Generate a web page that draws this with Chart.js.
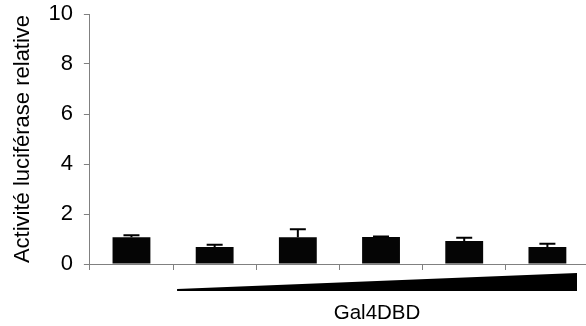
<!DOCTYPE html>
<html>
<head>
<meta charset="utf-8">
<script src="https://cdn.jsdelivr.net/npm/chart.js@4/dist/chart.umd.min.js"></script>
<style>
  body { margin: 0; overflow: hidden; background: #fff; }
  #wrap { width: 590px; height: 326px; }
</style>
</head>
<body>
<div id="wrap"><canvas id="grafico" width="590" height="326"></canvas></div>
<script>
// données
const categories = ['1', '2', '3', '4', '5', '6'];
const valeurs = [1.07, 0.68, 1.07, 1.08, 0.92, 0.68];
const erreurs = [0.08, 0.09, 0.32, 0.02, 0.13, 0.13];
const yTicks = [0, 2, 4, 6, 8, 10];

const police = "'Liberation Sans', Arial, sans-serif";
const gris = '#808080';

// barres d'erreur (vers le haut seulement)
const barresErreur = {
  id: 'barresErreur',
  afterDatasetsDraw(chart) {
    const ctx = chart.ctx;
    const y = chart.scales.y;
    const meta = chart.getDatasetMeta(0);
    ctx.save();
    ctx.strokeStyle = '#000';
    ctx.lineWidth = 2;
    meta.data.forEach((bar, i) => {
      const yHaut = y.getPixelForValue(valeurs[i] + erreurs[i]);
      ctx.beginPath();
      ctx.moveTo(bar.x, bar.y);
      ctx.lineTo(bar.x, yHaut);
      ctx.moveTo(bar.x - 8, yHaut);
      ctx.lineTo(bar.x + 8, yHaut);
      ctx.stroke();
    });
    ctx.restore();
  }
};

// triangle de dose croissante + légende Gal4DBD
const triangle = {
  id: 'triangle',
  afterDraw(chart) {
    const ctx = chart.ctx;
    const x = chart.scales.x;
    const y0 = chart.scales.y.getPixelForValue(0);
    const largeurCat = (x.right - x.left) / categories.length;
    const gauche = x.left + largeurCat + 4;
    const droite = x.right - 12;
    ctx.save();
    ctx.fillStyle = '#000';
    ctx.beginPath();
    ctx.moveTo(gauche, y0 + 25);
    ctx.lineTo(droite, y0 + 9);
    ctx.lineTo(droite, y0 + 27);
    ctx.lineTo(gauche, y0 + 27);
    ctx.closePath();
    ctx.fill();
    ctx.font = '20.5px ' + police;
    ctx.textAlign = 'center';
    ctx.textBaseline = 'middle';
    ctx.fillText('Gal4DBD', (gauche + droite) / 2, y0 + 49);
    ctx.restore();
  }
};

new Chart(document.getElementById('grafico'), {
  type: 'bar',
  data: {
    labels: categories,
    datasets: [{
      data: valeurs,
      backgroundColor: '#050505',
      barPercentage: 0.455,
      categoryPercentage: 1
    }]
  },
  options: {
    responsive: false,
    animation: false,
    layout: { padding: { left: 7, right: 1, top: 14, bottom: 56 } },
    plugins: {
      legend: { display: false },
      tooltip: { enabled: false }
    },
    scales: {
      x: {
        grid: { drawOnChartArea: false, color: gris, tickLength: 6 },
        border: { color: gris },
        ticks: { display: false }
      },
      y: {
        min: 0,
        max: 10,
        afterBuildTicks: s => { s.ticks = yTicks.map(v => ({ value: v })); },
        afterFit: s => { s.paddingTop = 0; s.paddingBottom = 0; },
        grid: { drawOnChartArea: false, color: gris, tickLength: 6 },
        border: { color: gris },
        ticks: { color: '#000', padding: 11, font: { family: police, size: 22 } },
        title: {
          display: true,
          text: 'Activité luciférase relative',
          color: '#000',
          font: { family: police, size: 22 },
          padding: { top: 3, bottom: 1 }
        }
      }
    }
  },
  plugins: [barresErreur, triangle]
});
</script>
</body>
</html>
